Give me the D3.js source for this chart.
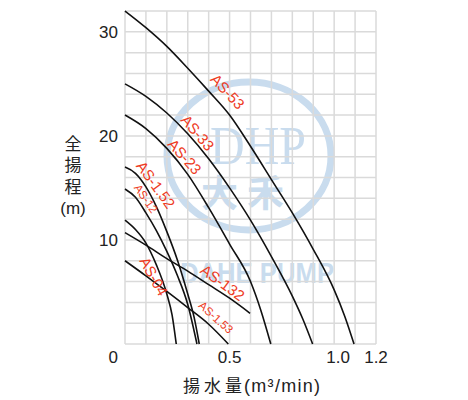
<!DOCTYPE html>
<html>
<head>
<meta charset="utf-8">
<script src="https://cdn.jsdelivr.net/npm/d3@7"></script>
<style>
	body { margin: 0; background: #fff; }
	svg { display: block; }
</style>
</head>
<body>
<div id="chart"></div>
<script>
// flow (m3/min) vs total head (m)
var as53 = [[0, 32.0], [0.1, 30.4], [0.2, 28.6], [0.3, 26.5], [0.4, 24.3], [0.5, 22.0], [0.6, 19.0], [0.7, 15.8], [0.8, 12.6], [0.9, 9.1], [1.0, 5.2], [1.05, 2.7], [1.095, 0]];
var as33 = [[0, 25.0], [0.1, 23.8], [0.2, 22.2], [0.3, 20.2], [0.4, 17.8], [0.5, 15.0], [0.6, 11.9], [0.7, 8.4], [0.8, 4.6], [0.85, 2.4], [0.897, 0]];
var as23 = [[0, 22.0], [0.1, 20.7], [0.2, 18.8], [0.3, 16.3], [0.4, 13.1], [0.5, 9.6], [0.6, 6.0], [0.65, 3.2], [0.697, 0]];
var as152 = [[0, 17.0], [0.05, 16.4], [0.1, 15.1], [0.15, 13.2], [0.2, 10.8], [0.25, 8.1], [0.3, 4.8], [0.33, 2.6], [0.355, 0]];
var as12 = [[0, 14.9], [0.05, 14.1], [0.1, 12.6], [0.15, 10.9], [0.2, 8.9], [0.25, 6.6], [0.3, 3.8], [0.344, 0]];
var as04 = [[0, 11.9], [0.05, 11.0], [0.1, 9.7], [0.15, 7.6], [0.2, 4.8], [0.225, 2.8], [0.245, 0]];
var as132 = [[0, 10.7], [0.1, 9.5], [0.2, 8.2], [0.3, 7.0], [0.4, 5.7], [0.5, 4.4], [0.598, 2.95]];
var as153 = [[0, 8.0], [0.1, 6.55], [0.2, 5.05], [0.3, 3.5], [0.4, 1.9], [0.494, 0]];

var seriesNames = ["AS-53", "AS-33", "AS-23", "AS-1.52", "AS-12", "AS-04", "AS-132", "AS-1.53"];
var seriesValues = [as53, as33, as23, as152, as12, as04, as132, as153];

// where each model name sits on the chart (flow, head) and how it is turned
var labelQ = [0.49, 0.347, 0.285, 0.147, 0.1, 0.137, 0.466, 0.435];
var labelH = [24.25, 20.3, 18.0, 15.3, 13.98, 6.5, 5.9, 2.55];
var labelAngle = [47, 49, 48, 54, 55, 61, 36, 42];
var labelSmall = [false, false, false, false, true, false, false, true];

var yTickLabels = [10, 20, 30];
var xTickLabels = ["0", "0.5", "1.0", "1.2"];
var xTickValues = [0, 0.5, 1.0, 1.2];

(function() {
	var width = 468,
		height = 400;

	var svg = d3.select("#chart")
				.append("svg")
				.attr("width", width)
				.attr("height", height);

	var xScale = d3.scaleLinear()
					.domain([0, 1.2])
					.range([125, 376]);

	var yScale = d3.scaleLinear()
					.domain([0, 32])
					.range([344, 11]);

	// watermark behind everything
	var blue = "#c9dcee";
	var wm = svg.append("g");
	wm.append("ellipse")
		.attr("cx", 249)
		.attr("cy", 156)
		.attr("rx", 82)
		.attr("ry", 74)
		.attr("fill", "none")
		.attr("stroke", blue)
		.attr("stroke-width", 7);
	wm.append("text")
		.attr("x", 210)
		.attr("y", 164)
		.attr("textLength", 96)
		.attr("lengthAdjust", "spacingAndGlyphs")
		.attr("font-family", "Liberation Serif")
		.attr("font-size", 54)
		.attr("fill", blue)
		.text("DHP");
	wm.append("text")
		.attr("x", 247)
		.attr("y", 207)
		.attr("text-anchor", "middle")
		.attr("font-family", "Noto Sans CJK SC")
		.attr("font-weight", "bold")
		.attr("font-size", 37)
		.attr("letter-spacing", 9)
		.attr("fill", blue)
		.text("大禾");
	wm.append("text")
		.attr("x", 180)
		.attr("y", 283)
		.attr("textLength", 154)
		.attr("lengthAdjust", "spacingAndGlyphs")
		.attr("font-family", "Liberation Sans")
		.attr("font-weight", "bold")
		.attr("font-size", 29)
		.attr("fill", blue)
		.text("DAHE PUMP");

	// grid
	svg.append("g")
		.selectAll("line")
		.data(xScale.ticks(12))
		.enter()
		.append("line")
		.attr("x1", function(d) { return xScale(d); })
		.attr("x2", function(d) { return xScale(d); })
		.attr("y1", yScale(0))
		.attr("y2", yScale(32))
		.attr("stroke", "#dadada")
		.attr("stroke-width", 1.5);

	svg.append("g")
		.selectAll("line")
		.data(yScale.ticks(16))
		.enter()
		.append("line")
		.attr("x1", xScale(0))
		.attr("x2", xScale(1.2))
		.attr("y1", function(d) { return yScale(d); })
		.attr("y2", function(d) { return yScale(d); })
		.attr("stroke", "#dadada")
		.attr("stroke-width", 1.5);

	// curves
	var line = d3.line()
				.x(function(d) { return xScale(d[0]); })
				.y(function(d) { return yScale(d[1]); })
				.curve(d3.curveMonotoneX);

	svg.selectAll(".curve")
		.data(seriesValues)
		.enter()
		.append("path")
		.attr("class", "curve")
		.attr("d", line)
		.attr("fill", "none")
		.attr("stroke", "#111")
		.attr("stroke-width", 1.6);

	// model names
	svg.selectAll(".model-label")
		.data(seriesNames)
		.enter()
		.append("text")
		.attr("class", "model-label")
		.attr("text-anchor", "middle")
		.attr("dy", "0.35em")
		.attr("font-family", "Liberation Sans")
		.attr("font-size", function(d, i) { return labelSmall[i] ? 11.5 : 15; })
		.attr("fill", "#ee3b24")
		.attr("transform", function(d, i) {
			return "translate(" + xScale(labelQ[i]) + "," + yScale(labelH[i]) + ") rotate(" + labelAngle[i] + ")";
		})
		.text(function(d) { return d; });

	// tick labels
	svg.selectAll(".y-label")
		.data(yTickLabels)
		.enter()
		.append("text")
		.attr("class", "y-label")
		.attr("text-anchor", "end")
		.attr("x", 118)
		.attr("y", function(d) { return yScale(d); })
		.attr("dy", "0.36em")
		.attr("font-family", "Liberation Sans")
		.attr("font-size", 17)
		.attr("fill", "#222")
		.text(function(d) { return d; });

	svg.selectAll(".x-label")
		.data(xTickLabels)
		.enter()
		.append("text")
		.attr("class", "x-label")
		.attr("text-anchor", function(d, i) { return i === 0 ? "end" : "middle"; })
		.attr("x", function(d, i) {
			if (i === 0) {
				return xScale(xTickValues[i]) - 7;
			} else if (d === "1.0") {
				return xScale(xTickValues[i]) + 4;
			}
			return xScale(xTickValues[i]);
		})
		.attr("y", 363)
		.attr("font-family", "Liberation Sans")
		.attr("font-size", 17)
		.attr("fill", "#222")
		.text(function(d) { return d; });

	// axis titles
	var yTitle = ["全", "揚", "程", "(m)"];
	svg.selectAll(".y-title")
		.data(yTitle)
		.enter()
		.append("text")
		.attr("class", "y-title")
		.attr("text-anchor", "middle")
		.attr("x", 73)
		.attr("y", function(d, i) { return 144 + i * 21.3; })
		.attr("dy", "0.36em")
		.attr("font-family", function(d) { return d === "(m)" ? "Liberation Sans" : "Noto Sans CJK JP"; })
		.attr("font-size", 17)
		.attr("fill", "#222")
		.text(function(d) { return d; });

	var xTitle = svg.append("text")
					.attr("y", 392)
					.attr("fill", "#222");
	xTitle.append("tspan")
		.attr("x", 183)
		.attr("font-family", "Noto Sans CJK JP")
		.attr("font-size", 17)
		.attr("letter-spacing", 4)
		.text("揚水量");
	xTitle.append("tspan")
		.attr("x", 244)
		.attr("font-family", "Liberation Sans")
		.attr("font-size", 18)
		.attr("letter-spacing", 1.3)
		.text("(m³/min)");
})();
</script>
</body>
</html>
